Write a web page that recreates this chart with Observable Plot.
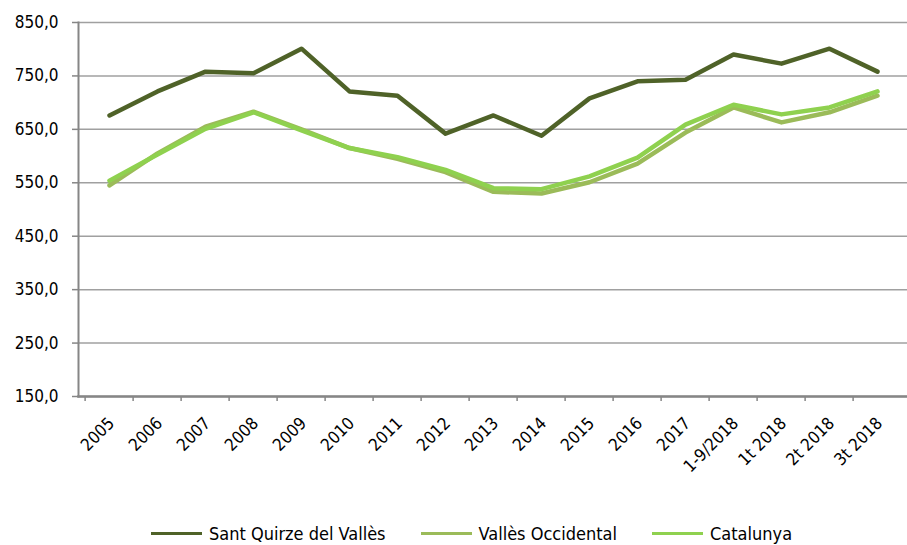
<!DOCTYPE html>
<html>
<head>
<meta charset="utf-8">
<script src="https://cdn.jsdelivr.net/npm/d3@7"></script>
<script src="https://cdn.jsdelivr.net/npm/@observablehq/plot@0.6"></script>
<style>
  html, body { margin: 0; padding: 0; background: #fff; }
  body { width: 907px; height: 545px; overflow: hidden; font-family: "DejaVu Sans Condensed", "Liberation Sans Narrow", sans-serif; }
  #chart svg { display: block; }
  #legend { display: flex; justify-content: center; align-items: center; gap: 35px; height: 30px; margin-top: 58px; font-size: 18px; color: #000; padding-left: 36px; }
  .item { display: flex; align-items: center; gap: 7px; }
  .sw { width: 51px; height: 3px; display: inline-block; }
</style>
</head>
<body>
<div id="chart"></div>
<div id="legend"></div>
<script>
const categories = ["2005","2006","2007","2008","2009","2010","2011","2012","2013","2014","2015","2016","2017","1-9/2018","1t 2018","2t 2018","3t 2018"];
const seriesNames = ["Sant Quirze del Vallès", "Vallès Occidental", "Catalunya"];
const seriesColors = ["#4f6228", "#9bbb59", "#8fd14f"];
const santQuirze = [676, 721, 758, 755, 801, 721, 713, 642, 676, 638, 708, 740, 743, 790, 773, 801, 758];
const vallesOcc = [545, 605, 655, 683, 650, 615, 595, 570, 533, 530, 551, 586, 644, 691, 663, 682, 713];
const catalunya = [554, 603, 651, 682, 648, 615, 598, 574, 540, 538, 562, 597, 659, 696, 678, 691, 721];
const yTicks = [150, 250, 350, 450, 550, 650, 750, 850];

const allSeries = [santQuirze, vallesOcc, catalunya];
const data = [];
allSeries.forEach((vals, s) => vals.forEach((v, i) => data.push({series: seriesNames[s], cat: categories[i], value: v})));

const fmt = d => d.toFixed(1).replace(".", ",");
const W = 907, ML = 78, MR = 0;
const step = (W - ML - MR) / categories.length;
const font = '"DejaVu Sans Condensed", "Liberation Sans Narrow", sans-serif';

const chart = Plot.plot({
  width: W,
  height: 460,
  marginLeft: ML,
  marginRight: MR,
  marginTop: 22,
  marginBottom: 64,
  style: {fontFamily: font, background: "#fff", overflow: "visible"},
  x: {type: "point", domain: categories, padding: 0.5, axis: null},
  y: {domain: [150, 850], axis: null},
  color: {domain: seriesNames, range: seriesColors},
  marks: [
    Plot.ruleY(yTicks, {stroke: "#a0a0a0", strokeWidth: 1.5}),
    Plot.axisY({ticks: yTicks, tickFormat: fmt, tickSize: 6, tickPadding: 14, stroke: "#868686", fill: "#000", fontSize: 17, strokeWidth: 1.5, label: null}),
    Plot.frame({anchor: "left", stroke: "#868686", strokeWidth: 2}),
    Plot.frame({anchor: "bottom", stroke: "#868686", strokeWidth: 2.5}),
    Plot.axisX({ticks: categories, tickSize: 5, text: null, dx: -step / 2, stroke: "#868686", strokeWidth: 1.5, label: null}),
    Plot.axisX({ticks: categories, tickSize: 0, tickPadding: 24, tickRotate: -45, textAnchor: "end", fill: "#000", fontSize: 17, dx: 2, label: null}),
    Plot.line(data, {x: "cat", y: "value", stroke: "series", z: "series", strokeWidth: 4.5, strokeLinejoin: "round"})
  ]
});
document.getElementById("chart").appendChild(chart);

const legend = document.getElementById("legend");
seriesNames.forEach((n, i) => {
  const it = document.createElement("div");
  it.className = "item";
  const sw = document.createElement("span");
  sw.className = "sw";
  sw.style.background = seriesColors[i];
  const t = document.createElement("span");
  t.textContent = n;
  it.appendChild(sw); it.appendChild(t);
  legend.appendChild(it);
});
</script>
</body>
</html>
